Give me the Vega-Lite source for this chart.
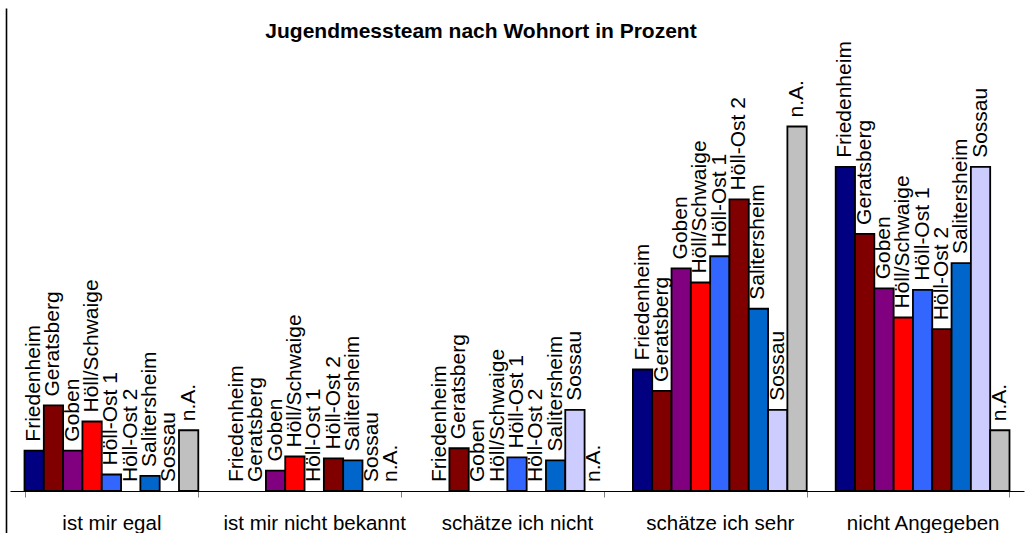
{
  "$schema": "https://vega.github.io/schema/vega-lite/v6.json",
  "width": 1014,
  "height": 525,
  "autosize": {"type": "none"},
  "padding": {"left": 10, "top": 8, "right": 5, "bottom": 0},
  "background": "white",
  "config": {"view": {"stroke": null}, "font": "Liberation Sans"},
  "title": {
    "text": "Jugendmessteam nach Wohnort in Prozent",
    "font": "Liberation Sans",
    "fontSize": 21,
    "fontWeight": "bold",
    "color": "black",
    "anchor": "middle",
    "frame": "group",
    "baseline": "alphabetic",
    "offset": 0,
    "dy": 50.5,
    "dx": -36
  },
  "data": {
    "values": [
      {"antwort": "ist mir egal", "ort": "Friedenheim", "wert": 8.3},
      {"antwort": "ist mir egal", "ort": "Geratsberg", "wert": 17.6},
      {"antwort": "ist mir egal", "ort": "Goben", "wert": 8.3},
      {"antwort": "ist mir egal", "ort": "Höll/Schwaige", "wert": 14.3},
      {"antwort": "ist mir egal", "ort": "Höll-Ost 1", "wert": 3.4},
      {"antwort": "ist mir egal", "ort": "Höll-Ost 2", "wert": 0},
      {"antwort": "ist mir egal", "ort": "Salitersheim", "wert": 3.1},
      {"antwort": "ist mir egal", "ort": "Sossau", "wert": 0},
      {"antwort": "ist mir egal", "ort": "n.A.", "wert": 12.5},
      {"antwort": "ist mir nicht bekannt", "ort": "Friedenheim", "wert": 0},
      {"antwort": "ist mir nicht bekannt", "ort": "Geratsberg", "wert": 0},
      {"antwort": "ist mir nicht bekannt", "ort": "Goben", "wert": 4.2},
      {"antwort": "ist mir nicht bekannt", "ort": "Höll/Schwaige", "wert": 7.1},
      {"antwort": "ist mir nicht bekannt", "ort": "Höll-Ost 1", "wert": 0},
      {"antwort": "ist mir nicht bekannt", "ort": "Höll-Ost 2", "wert": 6.7},
      {"antwort": "ist mir nicht bekannt", "ort": "Salitersheim", "wert": 6.3},
      {"antwort": "ist mir nicht bekannt", "ort": "Sossau", "wert": 0},
      {"antwort": "ist mir nicht bekannt", "ort": "n.A.", "wert": 0},
      {"antwort": "schätze ich nicht", "ort": "Friedenheim", "wert": 0},
      {"antwort": "schätze ich nicht", "ort": "Geratsberg", "wert": 8.8},
      {"antwort": "schätze ich nicht", "ort": "Goben", "wert": 0},
      {"antwort": "schätze ich nicht", "ort": "Höll/Schwaige", "wert": 0},
      {"antwort": "schätze ich nicht", "ort": "Höll-Ost 1", "wert": 6.9},
      {"antwort": "schätze ich nicht", "ort": "Höll-Ost 2", "wert": 0},
      {"antwort": "schätze ich nicht", "ort": "Salitersheim", "wert": 6.3},
      {"antwort": "schätze ich nicht", "ort": "Sossau", "wert": 16.7},
      {"antwort": "schätze ich nicht", "ort": "n.A.", "wert": 0},
      {"antwort": "schätze ich sehr", "ort": "Friedenheim", "wert": 25.0},
      {"antwort": "schätze ich sehr", "ort": "Geratsberg", "wert": 20.6},
      {"antwort": "schätze ich sehr", "ort": "Goben", "wert": 45.8},
      {"antwort": "schätze ich sehr", "ort": "Höll/Schwaige", "wert": 42.9},
      {"antwort": "schätze ich sehr", "ort": "Höll-Ost 1", "wert": 48.3},
      {"antwort": "schätze ich sehr", "ort": "Höll-Ost 2", "wert": 60.0},
      {"antwort": "schätze ich sehr", "ort": "Salitersheim", "wert": 37.5},
      {"antwort": "schätze ich sehr", "ort": "Sossau", "wert": 16.7},
      {"antwort": "schätze ich sehr", "ort": "n.A.", "wert": 75.0},
      {"antwort": "nicht Angegeben", "ort": "Friedenheim", "wert": 66.7},
      {"antwort": "nicht Angegeben", "ort": "Geratsberg", "wert": 52.9},
      {"antwort": "nicht Angegeben", "ort": "Goben", "wert": 41.7},
      {"antwort": "nicht Angegeben", "ort": "Höll/Schwaige", "wert": 35.7},
      {"antwort": "nicht Angegeben", "ort": "Höll-Ost 1", "wert": 41.4},
      {"antwort": "nicht Angegeben", "ort": "Höll-Ost 2", "wert": 33.3},
      {"antwort": "nicht Angegeben", "ort": "Salitersheim", "wert": 46.9},
      {"antwort": "nicht Angegeben", "ort": "Sossau", "wert": 66.7},
      {"antwort": "nicht Angegeben", "ort": "n.A.", "wert": 12.5}
    ]
  },
  "encoding": {
    "x": {
      "field": "antwort",
      "type": "nominal",
      "sort": ["ist mir egal", "ist mir nicht bekannt", "schätze ich nicht", "schätze ich sehr", "nicht Angegeben"],
      "scale": {"paddingInner": 0.143, "paddingOuter": 0.0715},
      "axis": {
        "title": null,
        "orient": "bottom",
        "offset": -42,
        "labelAngle": 0,
        "labelFont": "Liberation Sans",
        "labelFontSize": 20.5,
        "labelColor": "black",
        "labelPadding": 16,
        "labelLimit": 0,
        "domainColor": "black",
        "domainWidth": 1,
        "tickColor": "#808080",
        "tickSize": 6,
        "tickWidth": 1,
        "tickBand": "extent"
      }
    },
    "xOffset": {
      "field": "ort",
      "type": "nominal",
      "sort": ["Friedenheim", "Geratsberg", "Goben", "Höll/Schwaige", "Höll-Ost 1", "Höll-Ost 2", "Salitersheim", "Sossau", "n.A."],
      "scale": {"paddingInner": 0, "paddingOuter": 0}
    },
    "y": {
      "field": "wert",
      "type": "quantitative",
      "scale": {"domain": [-8.64, 99.38], "nice": false, "zero": false},
      "axis": {
        "title": null,
        "labels": false,
        "ticks": false,
        "grid": false,
        "domainColor": "black",
        "domainWidth": 1.6,
        "offset": 4
      }
    }
  },
  "layer": [
    {
      "mark": {"type": "bar", "stroke": "black", "strokeWidth": 1.8},
      "encoding": {
        "y2": {"datum": 0},
        "color": {
          "field": "ort",
          "type": "nominal",
          "scale": {
            "domain": ["Friedenheim", "Geratsberg", "Goben", "Höll/Schwaige", "Höll-Ost 1", "Höll-Ost 2", "Salitersheim", "Sossau", "n.A."],
            "range": ["#000080", "#800000", "#800080", "#FF0000", "#3366FF", "#800000", "#0066CC", "#CCCCFF", "#C0C0C0"]
          },
          "legend": null
        },
        "strokeOpacity": {"condition": {"test": "datum.wert == 0", "value": 0}, "value": 1}
      }
    },
    {
      "mark": {
        "type": "text",
        "angle": 270,
        "align": "left",
        "baseline": "middle",
        "dx": 9,
        "font": "Liberation Sans",
        "fontSize": 21,
        "color": "black"
      },
      "encoding": {
        "text": {"field": "ort"}
      }
    }
  ]
}
